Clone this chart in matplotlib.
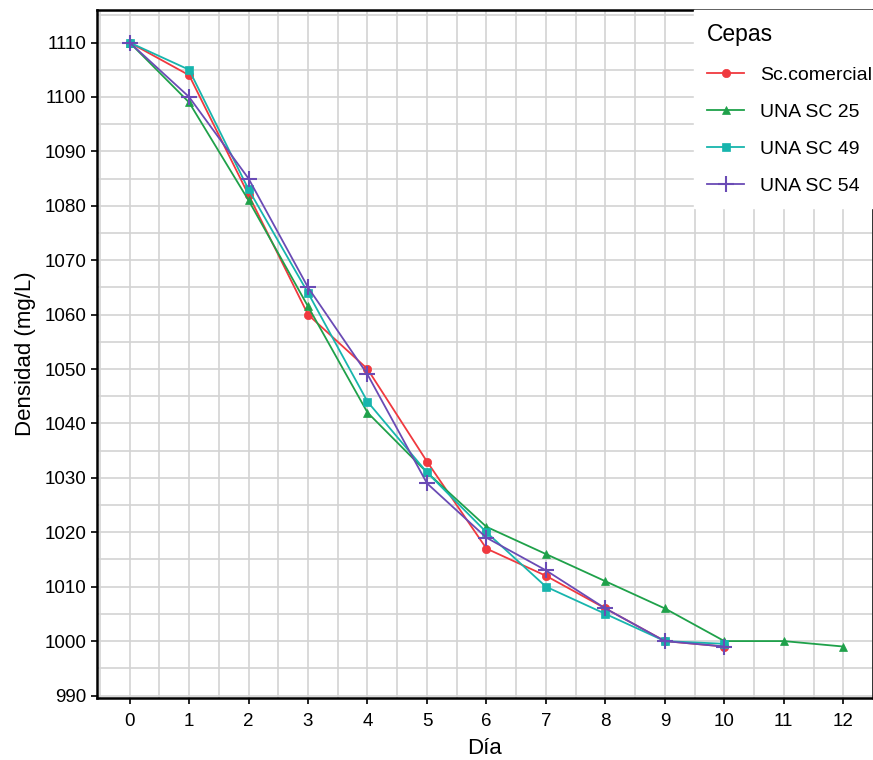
import numpy as np
import matplotlib.pyplot as plt

plt.rcParams['font.family'] = ['Liberation Sans', 'DejaVu Sans']

dias = list(range(13))
sc_comercial = [1110, 1104, 1082, 1060, 1050, 1033, 1017, 1012, 1006, 1000, 999]
una_sc25 = [1110, 1099, 1081, 1061.5, 1042, 1031, 1021, 1016, 1011, 1006, 1000, 1000, 999]
una_sc49 = [1110, 1105, 1083, 1064, 1044, 1031, 1020, 1010, 1005, 1000, 999.5]
una_sc54 = [1110, 1100, 1085, 1065, 1049, 1029, 1019, 1013, 1006, 1000, 999]

series = [
    ('Sc.comercial', sc_comercial, '#f0393f', 'o', 6),
    ('UNA SC 25', una_sc25, '#1fa14a', '^', 6),
    ('UNA SC 49', una_sc49, '#17b5ad', 's', 6),
    ('UNA SC 54', una_sc54, '#6a4bb5', '+', 11),
]

fig = plt.figure(figsize=(8.73, 7.6), dpi=100)
ax = fig.add_axes([0.111, 0.082, 0.889, 0.905])

for nombre, vals, col, mk, ms in series:
    ax.plot(dias[:len(vals)], vals, color=col, marker=mk, markersize=ms,
            linewidth=1.3, markeredgewidth=1.5 if mk == '+' else 0.5, label=nombre)

ax.set_xlim(-0.55, 12.5)
ax.set_ylim(989.6, 1116)
ax.set_xticks(range(13))
ax.set_xticks(np.arange(-0.5, 12.6, 0.5), minor=True)
ax.set_yticks(range(990, 1111, 10))
ax.set_yticks(range(990, 1116, 5), minor=True)
ax.grid(True, which='both', color='#d3d3d3', linewidth=1.2)
ax.set_axisbelow(True)
ax.tick_params(which='minor', length=0)
ax.tick_params(which='major', length=4, width=1.2, labelsize=13.5, colors='black')
ax.tick_params(axis='x', pad=7)
for s in ax.spines.values():
    s.set_color('black')
    s.set_linewidth(1.8)

ax.set_xlabel('Día', fontsize=16, labelpad=6)
ax.set_ylabel('Densidad (mg/L)', fontsize=16, labelpad=6)

leg = ax.legend(title='Cepas', loc='upper right', bbox_to_anchor=(1.016, 1.0),
                fontsize=14, title_fontsize=16.5,
                frameon=True, fancybox=False, borderaxespad=0.0, handlelength=1.9,
                handletextpad=0.8, labelspacing=1.0, borderpad=0.7)
leg.get_frame().set_edgecolor('white')
leg.get_frame().set_alpha(1)
leg._legend_box.align = 'left'

fig.savefig('out.png', dpi=100)
